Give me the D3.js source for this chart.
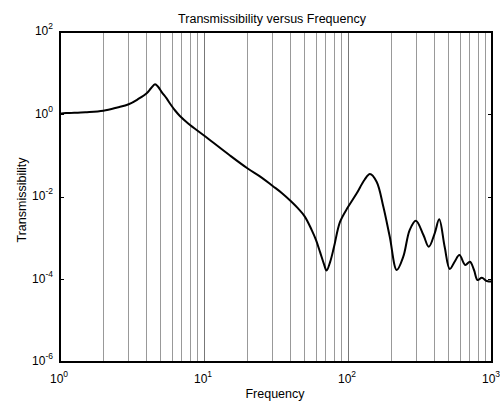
<!DOCTYPE html>
<html><head><meta charset="utf-8">
<script src="https://cdn.jsdelivr.net/npm/d3@7"></script>
<style>body{margin:0;background:#fff}svg{display:block}text{font-family:"Liberation Sans",Arial,sans-serif;fill:#000}</style>
</head><body><svg id="c" width="500" height="403"></svg>
<script>
const freq = [1, 1.1, 1.5, 2, 2.5, 3, 3.5, 4, 4.3, 4.57, 4.8, 5.1, 5.5, 5.9, 6.3, 6.8, 7.8, 10, 15, 20, 25, 30, 35, 40, 45, 50, 56, 60, 64, 68, 71, 75, 80, 88, 100, 115, 130, 142, 158, 176, 195, 218, 242, 268, 296, 334, 364, 400, 430, 469, 509, 550, 594, 652, 703, 750, 794, 850, 920, 1000];
const trans = [1.05, 1.08, 1.14, 1.24, 1.48, 1.77, 2.38, 3.27, 4.39, 5.4, 4.7, 3.45, 2.45, 1.70, 1.25, 0.92, 0.60, 0.31, 0.104, 0.0497, 0.030, 0.0185, 0.0122, 0.0080, 0.0053, 0.0034, 0.00158, 9.0e-4, 4.6e-4, 2.4e-4, 1.65e-4, 2.6e-4, 6.2e-4, 2.48e-3, 5.7e-3, 0.0123, 0.0258, 0.0361, 0.0235, 5.8e-3, 1.09e-3, 1.7e-4, 3.57e-4, 1.58e-3, 2.66e-3, 1.2e-3, 6.2e-4, 1.32e-3, 2.88e-3, 6.2e-4, 1.8e-4, 2.7e-4, 3.9e-4, 2.25e-4, 2.7e-4, 1.7e-4, 9.7e-5, 1.1e-4, 9.2e-5, 8.9e-5];
const xTickExps = [0, 1, 2, 3];
const yTickExps = [2, 0, -2, -4, -6];
const gridVals = [2,3,4,5,6,7,8,9,10,20,30,40,50,60,70,80,90,100,200,300,400,500,600,700,800,900];
const title = "Transmissibility versus Frequency";
const xLabel = "Frequency";
const yLabel = "Transmissibility";

const L = 60, R = 492, T = 32, B = 362;
const svg = d3.select("#c");
const x = d3.scaleLog().domain([1, 1000]).range([L, R]);
const y = d3.scaleLog().domain([1e-6, 1e2]).range([B, T]);

// grid
svg.append("g").selectAll("line").data(gridVals).join("line")
  .attr("x1", d => x(d)).attr("x2", d => x(d)).attr("y1", T).attr("y2", B)
  .attr("stroke", d => (d === 10 || d === 100) ? "#777" : "#999").attr("stroke-width", 1)
  .attr("shape-rendering", "crispEdges");

// y ticks (left and right)
const yt = svg.append("g");
yTickExps.forEach(e => {
  const yy = y(Math.pow(10, e));
  yt.append("line").attr("x1", L).attr("x2", L + 4).attr("y1", yy).attr("y2", yy).attr("stroke", "#000").attr("shape-rendering", "crispEdges");
  yt.append("line").attr("x1", R - 4).attr("x2", R).attr("y1", yy).attr("y2", yy).attr("stroke", "#000").attr("shape-rendering", "crispEdges");
  const t = yt.append("text").attr("x", 53).attr("y", yy + 3).attr("text-anchor", "end").attr("font-size", 12);
  t.append("tspan").text("10");
  t.append("tspan").attr("dy", -6).attr("font-size", 8.5).text(e);
});
// x tick labels
xTickExps.forEach(e => {
  const xx = x(Math.pow(10, e));
  const t = svg.append("text").attr("x", xx - 1).attr("y", 383).attr("text-anchor", "middle").attr("font-size", 12);
  t.append("tspan").text("10");
  t.append("tspan").attr("dy", -6).attr("font-size", 8.5).text(e);
});

// box
svg.append("rect").attr("x", L).attr("y", T).attr("width", R - L).attr("height", B - T)
  .attr("fill", "none").attr("stroke", "#000").attr("stroke-width", 1.3).attr("shape-rendering", "crispEdges");

// curve
const data = freq.map((f, i) => [f, trans[i]]);
svg.append("path").datum(data)
  .attr("d", d3.line().x(d => x(d[0])).y(d => y(d[1])).curve(d3.curveCatmullRom.alpha(0.5)))
  .attr("fill", "none").attr("stroke", "#000").attr("stroke-width", 2);

svg.append("text").attr("x", 272).attr("y", 23).attr("text-anchor", "middle").attr("font-size", 12.5).text(title);
svg.append("text").attr("x", 275).attr("y", 398).attr("text-anchor", "middle").attr("font-size", 12.5).text(xLabel);
svg.append("text").attr("transform", "translate(26,200) rotate(-90)").attr("text-anchor", "middle").attr("font-size", 12.5).text(yLabel);
</script></body></html>
